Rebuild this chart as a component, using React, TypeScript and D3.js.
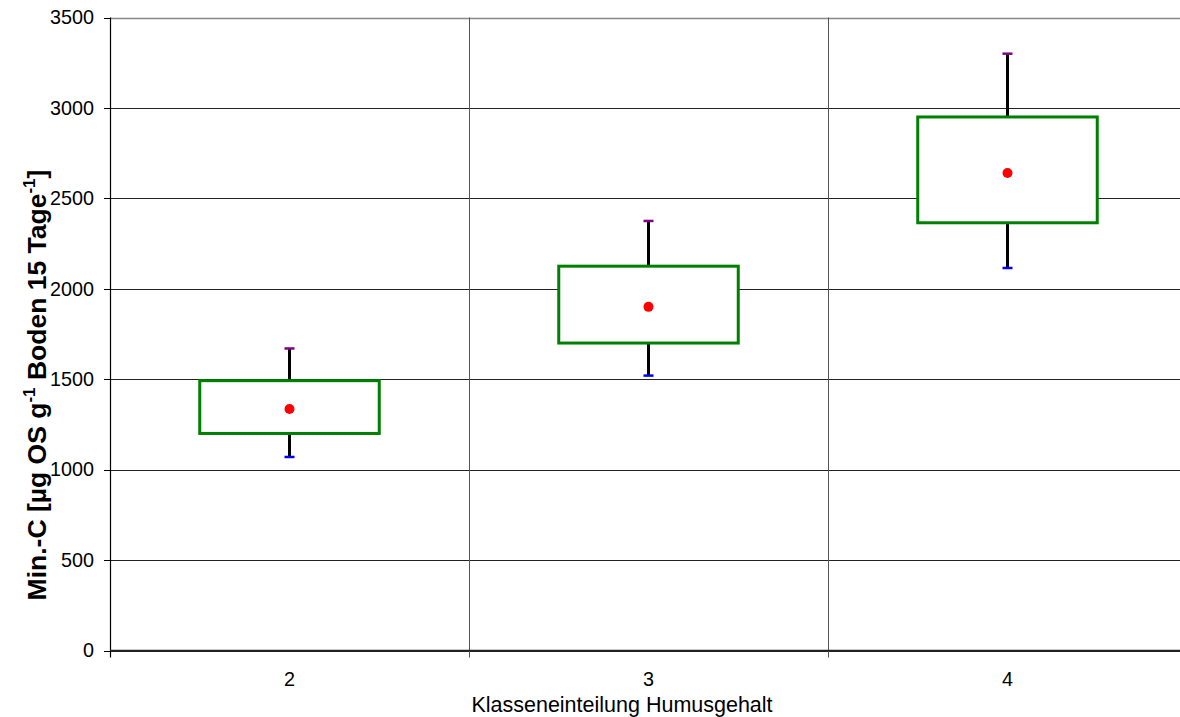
import React from 'react';
import * as d3 from 'd3';

const categories = ['2', '3', '4'];
const q1 = [1200, 1700, 2365];
const q3 = [1492, 2125, 2950];
const whiskerMin = [1070, 1520, 2115];
const whiskerMax = [1670, 2375, 3300];
const means = [1335, 1900, 2640];
const yTicks = [0, 500, 1000, 1500, 2000, 2500, 3000, 3500];

const W = 1180;
const H = 717;
const left = 110;
const right = 1187;
const top = 17.5;
const bottom = 650.5;

export default function App() {
  const x = d3.scaleBand<string>().domain(categories).range([left, right]).padding(0);
  const y = d3.scaleLinear().domain([0, 3500]).range([bottom, top]);
  const bw = x.bandwidth();
  const boxW = bw * 0.5;
  const capW = 10;
  const font = 'Arial, "Liberation Sans", sans-serif';

  const boundaries = d3.range(categories.length + 1).map((i) => left + i * bw);

  return (
    <svg width={W} height={H} style={{ position: 'absolute', left: 0, top: 0, background: '#fff' }}>
      {/* horizontal grid */}
      {yTicks.map((t) => (
        <line key={'g' + t} x1={left} x2={W} y1={Math.round(y(t)) + 0.5} y2={Math.round(y(t)) + 0.5} stroke={t === 3500 ? '#888' : '#222'} strokeWidth={t === 3500 ? 1.5 : 1} />
      ))}
      {/* vertical grid */}
      {boundaries.slice(1, -1).map((b, i) => (
        <line key={'v' + i} x1={Math.round(b) + 0.5} x2={Math.round(b) + 0.5} y1={top} y2={bottom + 7} stroke="#555" strokeWidth={1} />
      ))}
      {/* y axis */}
      <line x1={left + 0.5} x2={left + 0.5} y1={top} y2={bottom + 7} stroke="#000" strokeWidth={1.2} />
      {yTicks.map((t) => (
        <g key={'yt' + t}>
          <line x1={left - 6} x2={left} y1={Math.round(y(t)) + 0.5} y2={Math.round(y(t)) + 0.5} stroke="#000" strokeWidth={1} />
          <text x={94} y={y(t) + 6.8} textAnchor="end" fontFamily={font} fontSize={19.8} fill="#000">{t}</text>
        </g>
      ))}
      {/* x axis */}
      <line x1={left} x2={W} y1={bottom} y2={bottom} stroke="#222" strokeWidth={1.5} />
      {categories.map((c) => (
        <text key={'xt' + c} x={(x(c) as number) + bw / 2} y={686} textAnchor="middle" fontFamily={font} fontSize={19.8} fill="#000">{c}</text>
      ))}
      {/* boxes */}
      {categories.map((c, i) => {
        const cx = Math.round((x(c) as number) + bw / 2) - 0.5;
        return (
          <g key={'b' + c}>
            <line x1={cx} x2={cx} y1={y(q3[i])} y2={y(whiskerMax[i])} stroke="#000" strokeWidth={3} />
            <line x1={cx} x2={cx} y1={y(q1[i])} y2={y(whiskerMin[i])} stroke="#000" strokeWidth={3} />
            <rect x={cx - boxW / 2} y={y(q3[i])} width={boxW} height={y(q1[i]) - y(q3[i])} fill="#fff" stroke="#008000" strokeWidth={3} />
            <line x1={cx - capW / 2} x2={cx + capW / 2} y1={y(whiskerMax[i])} y2={y(whiskerMax[i])} stroke="#800080" strokeWidth={2.5} />
            <line x1={cx - capW / 2} x2={cx + capW / 2} y1={y(whiskerMin[i])} y2={y(whiskerMin[i])} stroke="#0000ff" strokeWidth={2.5} />
            <circle cx={cx} cy={y(means[i])} r={5} fill="#ff0000" />
          </g>
        );
      })}
      {/* axis titles */}
      <text x={622} y={712} textAnchor="middle" fontFamily={font} fontSize={21.5} fill="#000">Klasseneinteilung Humusgehalt</text>
      <text transform="translate(46,385) rotate(-90)" textAnchor="middle" fontFamily={font} fontSize={26.5} fontWeight="bold" fill="#000">
        Min.-C [µg OS g<tspan dy={-11} fontSize={17}>-1</tspan><tspan dy={11}> Boden 15 Tage</tspan><tspan dy={-11} fontSize={17}>-1</tspan><tspan dy={11}>]</tspan>
      </text>
    </svg>
  );
}
